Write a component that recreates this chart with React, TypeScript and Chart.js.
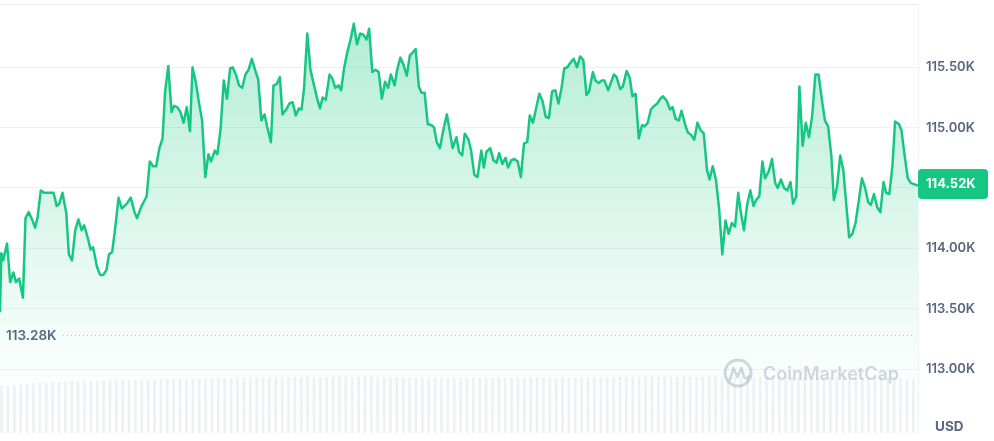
import React, { useEffect, useRef } from 'react';
import { Chart, registerables } from 'chart.js';

Chart.register(...registerables);

// Minutes since start of the 24h window
const times: number[] = [
  0, 2, 5, 11, 16, 21, 25, 30, 36, 40,
  45, 51, 55, 59, 64, 69, 84, 89, 93, 98,
  104, 108, 113, 118, 123, 128, 132, 138, 142, 146,
  152, 157, 162, 167, 171, 176, 181, 186, 191, 199,
  205, 211, 215, 222, 226, 230, 235, 240, 245, 250,
  255, 259, 264, 269, 273, 278, 283, 288, 293, 298,
  302, 307, 312, 317, 322, 327, 331, 337, 341, 346,
  351, 356, 361, 365, 370, 375, 380, 385, 390, 395,
  400, 405, 410, 415, 419, 425, 429, 434, 439, 443,
  449, 454, 459, 464, 469, 473, 477, 482, 487, 493,
  498, 502, 506, 511, 517, 521, 526, 531, 535, 540,
  545, 549, 555, 560, 565, 570, 575, 579, 584, 589,
  594, 599, 604, 609, 613, 619, 623, 628, 633, 638,
  643, 647, 652, 657, 661, 666, 671, 677, 681, 685,
  690, 695, 701, 710, 716, 720, 725, 729, 735, 739,
  744, 749, 755, 759, 763, 769, 774, 779, 783, 788,
  793, 797, 802, 807, 812, 817, 822, 827, 831, 836,
  841, 846, 851, 856, 861, 866, 871, 876, 881, 885,
  890, 895, 900, 905, 910, 915, 920, 924, 930, 934,
  939, 944, 948, 954, 958, 963, 967, 973, 977, 983,
  988, 992, 997, 1002, 1007, 1011, 1016, 1021, 1026, 1031,
  1036, 1040, 1046, 1051, 1055, 1060, 1065, 1069, 1075, 1079,
  1084, 1089, 1094, 1099, 1104, 1109, 1113, 1118, 1123, 1128,
  1133, 1138, 1143, 1148, 1153, 1158, 1162, 1167, 1172, 1177,
  1182, 1186, 1191, 1196, 1200, 1206, 1211, 1216, 1220, 1225,
  1230, 1235, 1240, 1244, 1249, 1254, 1259, 1264, 1269, 1274,
  1279, 1284, 1289, 1294, 1299, 1304, 1308, 1313, 1318, 1323,
  1328, 1332, 1337, 1342, 1347, 1352, 1357, 1362, 1366, 1371,
  1376, 1381, 1386, 1390, 1395, 1400, 1404, 1410, 1414, 1419,
  1424, 1429, 1440,
];

// BTC price in USD
const prices: number[] = [
  113470, 113960, 113900, 114040, 113720, 113800, 113720, 113750, 113590, 114250,
  114300, 114230, 114170, 114260, 114480, 114460, 114460, 114350, 114370, 114460,
  114290, 113950, 113900, 114150, 114240, 114150, 114190, 114080, 113990, 114010,
  113850, 113780, 113780, 113820, 113950, 113970, 114180, 114420, 114330, 114370,
  114420, 114300, 114250, 114350, 114390, 114430, 114720, 114680, 114680, 114830,
  114910, 115300, 115510, 115130, 115180, 115170, 115130, 115040, 115170, 114970,
  115500, 115380, 115210, 115060, 114590, 114780, 114720, 114810, 114780, 114990,
  115390, 115240, 115490, 115500, 115440, 115350, 115330, 115440, 115480, 115570,
  115480, 115400, 115060, 115110, 115010, 114880, 115350, 115360, 115420, 115110,
  115150, 115200, 115210, 115100, 115160, 115150, 115330, 115780, 115480, 115340,
  115230, 115160, 115250, 115230, 115440, 115410, 115330, 115350, 115310, 115500,
  115630, 115710, 115860, 115690, 115780, 115770, 115730, 115820, 115460, 115480,
  115460, 115240, 115380, 115330, 115440, 115350, 115480, 115580, 115520, 115430,
  115600, 115620, 115650, 115340, 115290, 115290, 115030, 115020, 115000, 114880,
  114830, 114970, 115110, 114830, 114920, 114800, 114770, 114950, 114900, 114810,
  114610, 114590, 114810, 114670, 114800, 114830, 114730, 114710, 114790, 114700,
  114750, 114670, 114730, 114740, 114720, 114590, 114870, 114880, 115100, 115040,
  115160, 115280, 115220, 115090, 115080, 115300, 115310, 115200, 115330, 115490,
  115500, 115540, 115570, 115500, 115590, 115560, 115270, 115300, 115460, 115390,
  115370, 115390, 115390, 115310, 115370, 115440, 115420, 115320, 115340, 115470,
  115410, 115260, 115280, 114910, 115020, 115010, 115040, 115150, 115180, 115200,
  115240, 115260, 115220, 115150, 115170, 115070, 115060, 115140, 115020, 114960,
  114940, 114900, 115040, 114980, 114950, 114650, 114570, 114680, 114570, 114330,
  113950, 114230, 114120, 114210, 114180, 114460, 114300, 114150, 114360, 114480,
  114350, 114400, 114430, 114720, 114580, 114640, 114740, 114540, 114500, 114570,
  114500, 114480, 114550, 114370, 114430, 115340, 114850, 115040, 114920, 115100,
  115440, 115440, 115240, 115060, 115010, 114770, 114400, 114510, 114770, 114640,
  114330, 114090, 114120, 114210, 114390, 114580, 114500, 114380, 114360, 114450,
  114340, 114300, 114550, 114460, 114450, 114690, 115050, 115030, 114980, 114770,
  114580, 114540, 114520,
];

// Rolling 24h volume (billions USD), one bar per 10 minutes
const volumes: number[] = [
  66.0, 66.5, 67.3, 68.0, 68.8, 69.5, 70.0, 70.6,
  71.0, 71.5, 71.9, 72.4, 72.8, 73.1, 73.4, 73.6,
  73.8, 74.0, 74.1, 74.3, 74.2, 74.5, 74.6, 74.8,
  75.0, 75.3, 75.6, 75.4, 75.8, 76.0, 75.9, 76.2,
  76.4, 76.6, 76.3, 76.8, 77.2, 77.4, 77.9, 78.1,
  78.3, 78.6, 78.4, 78.2, 78.5, 78.7, 78.4, 78.3,
  78.6, 78.8, 78.5, 78.9, 78.7, 78.8, 79.0, 78.6,
  78.9, 78.7, 78.4, 78.6, 78.3, 78.5, 78.1, 77.9,
  77.6, 77.8, 77.4, 77.7, 77.5, 77.3, 77.6, 77.8,
  77.5, 77.3, 77.6, 77.4, 77.2, 77.5, 77.7, 77.6,
  77.9, 78.1, 77.8, 78.3, 78.0, 77.7, 77.5, 77.2,
  77.4, 77.6, 77.9, 78.0, 78.2, 78.4, 78.3, 78.5,
  78.6, 78.4, 78.7, 78.9, 78.6, 78.8, 78.5, 78.7,
  78.9, 79.1, 78.8, 78.6, 78.9, 79.2, 79.0, 78.8,
  78.6, 78.9, 78.7, 78.5, 78.8, 78.6, 78.4, 78.7,
  78.5, 78.3, 78.6, 78.8, 78.5, 78.2, 78.4, 78.6,
  78.3, 78.5, 78.2, 78.0, 78.3, 78.1, 77.9, 78.2,
  78.0, 77.8, 78.1, 77.9, 77.6, 77.3, 75.6, 74.8,
];
const volumeLabels: string[] = volumes.map((_, i) => String(i));

const priceTicks: number[] = [113000, 113500, 114000, 114500, 115000, 115500];
const lowPrice = 113280;
const lastPrice = 114520;
const currency = 'USD';
const watermark = 'CoinMarketCap';

const Y_MIN = 112470;
const Y_MAX = 116016;

const GREEN = '#16c784';
const LABEL = '#58667e';
const GRID = '#eff2f5';
const FONT = 'Inter, "Noto Sans", sans-serif';

const fmtK = (v: number) => (v / 1000).toFixed(2) + 'K';

export default function App() {
  const ref = useRef<HTMLCanvasElement | null>(null);

  useEffect(() => {
    document.body.style.margin = '0';
    const canvas = ref.current;
    if (!canvas) return;
    const ctx = canvas.getContext('2d');
    if (!ctx) return;

    const overlay = {
      id: 'overlay',
      beforeDatasetsDraw(chart: any) {
        const { ctx: c, chartArea } = chart;
        c.save();
        c.strokeStyle = '#e6e9ee';
        c.lineWidth = 1;
        c.beginPath();
        c.moveTo(chartArea.left, chartArea.top - 0.5);
        c.lineTo(chartArea.right, chartArea.top - 0.5);
        c.stroke();
        c.restore();
      },
      afterDatasetsDraw(chart: any) {
        const { ctx: c, chartArea, scales } = chart;
        const y = scales.y;
        c.save();
        // low reference line
        const ly = Math.round(y.getPixelForValue(lowPrice)) + 0.5;
        c.strokeStyle = '#b4bcc8';
        c.lineWidth = 1;
        c.setLineDash([1, 3]);
        c.beginPath();
        c.moveTo(63, ly);
        c.lineTo(chartArea.right - 3, ly);
        c.stroke();
        c.setLineDash([]);
        c.fillStyle = LABEL;
        c.font = `600 13.5px ${FONT}`;
        c.textAlign = 'left';
        c.textBaseline = 'middle';
        c.fillText(fmtK(lowPrice), 6, ly);

        // watermark
        const wm = 'rgba(170,181,199,0.55)';
        c.strokeStyle = wm;
        c.lineWidth = 3;
        c.beginPath();
        c.arc(738, 373, 13, 0, Math.PI * 2);
        c.stroke();
        c.lineWidth = 2.6;
        c.lineJoin = 'round';
        c.lineCap = 'round';
        c.beginPath();
        c.moveTo(730, 380);
        c.lineTo(733.5, 368);
        c.lineTo(737.5, 377);
        c.lineTo(741.5, 368);
        c.lineTo(744, 377);
        c.quadraticCurveTo(746, 380, 749, 376);
        c.stroke();
        c.fillStyle = wm;
        c.font = `600 18px ${FONT}`;
        c.textBaseline = 'alphabetic';
        c.fillText(watermark, 763, 380);
        c.restore();
      },
      afterDraw(chart: any) {
        const { ctx: c, chartArea, scales } = chart;
        const y = scales.y;
        c.save();
        // current price tag
        const py = y.getPixelForValue(lastPrice) - 1.5;
        const bx = chartArea.right;
        const bw = 70;
        const bh = 30;
        c.fillStyle = GREEN;
        c.beginPath();
        (c as any).roundRect(bx, py - bh / 2, bw, bh, 4);
        c.fill();
        c.fillStyle = '#ffffff';
        c.font = `700 13px ${FONT}`;
        c.textAlign = 'left';
        c.textBaseline = 'middle';
        c.fillText(fmtK(lastPrice), bx + 8, py + 0.5);
        // currency label
        c.fillStyle = LABEL;
        c.font = `700 13.5px ${FONT}`;
        c.fillText(currency, 935, 427);
        c.restore();
      },
    };

    const chart = new Chart(ctx, {
      type: 'line',
      data: {
        datasets: [
          {
            type: 'bar',
            data: volumes,
            xAxisID: 'xb',
            yAxisID: 'yv',
            backgroundColor: '#eef0f3',
            categoryPercentage: 1,
            barPercentage: 0.82,
            order: 0,
          } as any,
          {
            type: 'line',
            data: times.map((t, i) => ({ x: t, y: prices[i] })),
            xAxisID: 'x',
            yAxisID: 'y',
            borderColor: GREEN,
            borderWidth: 2.5,
            borderJoinStyle: 'round',
            pointRadius: 0,
            tension: 0,
            fill: 'start',
            backgroundColor: (context: any) => {
              const area = context.chart.chartArea;
              if (!area) return 'rgba(22,199,132,0.2)';
              const g = context.chart.ctx.createLinearGradient(0, area.top, 0, area.bottom);
              g.addColorStop(0, 'rgba(22,199,132,0.34)');
              g.addColorStop(0.55, 'rgba(22,199,132,0.13)');
              g.addColorStop(0.85, 'rgba(22,199,132,0.02)');
              g.addColorStop(1, 'rgba(22,199,132,0)');
              return g;
            },
            order: 1,
          } as any,
        ],
      },
      options: {
        responsive: true,
        maintainAspectRatio: false,
        animation: false,
        layout: { padding: { left: 0, right: 0, top: 5, bottom: 8 } },
        plugins: { legend: { display: false }, tooltip: { enabled: false } },
        scales: {
          x: { type: 'linear', min: 0, max: 1440, display: false },
          xb: { type: 'category', labels: volumeLabels, display: false, offset: true },
          y: {
            position: 'right',
            min: Y_MIN,
            max: Y_MAX,
            afterBuildTicks: (s: any) => {
              s.ticks = priceTicks.map((v) => ({ value: v }));
            },
            afterFit: (s: any) => {
              s.width = 76;
              s.paddingTop = 0;
              s.paddingBottom = 0;
            },
            grid: { color: GRID, drawTicks: false },
            border: { display: true, color: GRID },
            ticks: {
              padding: 8,
              color: LABEL,
              font: { family: FONT, size: 13, weight: 600 },
              callback: (v: any) => fmtK(Number(v)),
            },
          },
          yv: { display: false, min: 0, max: 600 },
        },
      } as any,
      plugins: [overlay],
    });

    return () => chart.destroy();
  }, []);

  return (
    <div style={{ position: 'fixed', left: 0, top: 0, width: 994, height: 441, background: '#ffffff' }}>
      <canvas ref={ref} />
    </div>
  );
}
